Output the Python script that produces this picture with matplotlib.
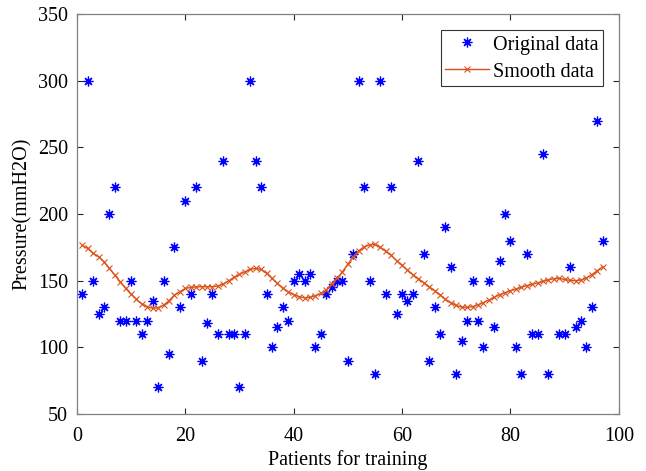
import matplotlib
matplotlib.use("Agg")
import matplotlib.pyplot as plt
import numpy as np

plt.rcParams['font.family'] = ['Liberation Serif', 'DejaVu Serif']

# Original data (patient index, pressure)
orig_x = list(range(1, 88)) + list(range(89, 98))
orig_y = [140, 300, 150, 125, 130, 200, 220, 120, 120, 150,
          120, 110, 120, 135, 70, 150, 95, 175, 130, 210,
          140, 220, 90, 118, 140, 110, 240, 110, 110, 70,
          110, 300, 240, 220, 140, 100, 115, 130, 120, 150,
          155, 150, 155, 100, 110, 140, 145, 150, 150, 90,
          170, 300, 220, 150, 80, 300, 140, 220, 125, 140,
          135, 140, 240, 170, 90, 130, 110, 190, 160, 80,
          105, 120, 150, 120, 100, 150, 115, 165, 200, 180,
          100, 80, 170, 110, 110, 245, 80,
          110, 110, 160, 115, 120, 100, 130, 270, 180]

# Smooth data
smooth_x = list(range(1, 98))
smooth_y = [176.5, 174.2, 170.5, 168, 164.2, 159.2, 154.2, 149.2, 144.2, 140,
            136, 132.5, 130.5, 129.3, 129.7, 131.7, 135, 139.2, 141.7, 144.2,
            145, 145.3, 145.5, 145.5, 145.5, 146, 147.5, 150, 152.5, 154.8,
            156.7, 158.5, 159.2, 158.5, 155.5, 151.7, 148, 144.2, 141.7, 139.5,
            138, 137.2, 137.5, 138.7, 140.5, 143, 147.5, 151.7, 156.7, 162.5,
            168, 172.5, 175.5, 176.8, 177.2, 175, 172, 169, 165, 161.5,
            158, 154.5, 151.5, 148.5, 145.5, 142.5, 139.5, 136, 133.5, 131.5,
            130.2, 130, 130.5, 132, 133.5, 135.5, 137.5, 139.5, 141, 142.5,
            143.7, 145, 146.3, 147.3, 148.3, 149.5, 150.7, 151.5, 151.7, 151,
            150.2, 150, 150.5, 152, 154.5, 157.5, 160.5]

fig = plt.figure(figsize=(6.46, 4.71), dpi=100)
ax = fig.add_axes([0.119, 0.121, 0.839, 0.849])

ax.plot(orig_x, orig_y, linestyle='none', marker=(8, 2, 0), markersize=7,
        color=(0, 0, 1), markeredgewidth=0.9, label='Original data')
ax.plot(smooth_x, smooth_y, '-', marker='x', markersize=5, color='#D95319',
        linewidth=1.0, markeredgewidth=0.8, label='Smooth data')

ax.set_xlim(0, 100)
ax.set_ylim(50, 350)
ax.set_xticks([0, 20, 40, 60, 80, 100])
ax.set_yticks([50, 100, 150, 200, 250, 300, 350])
ax.tick_params(direction='in', length=4, width=0.8, top=True, right=True,
               labelsize=14.5, colors='#262626')
ax.tick_params(axis='x', pad=9.5)
ax.tick_params(axis='y', pad=6.5)
for lbl in ax.get_xticklabels() + ax.get_yticklabels():
    lbl.set_color('black')
for s in ax.spines.values():
    s.set_color('#808080')
    s.set_linewidth(0.9)

ax.set_xlabel('Patients for training', fontsize=14.5, labelpad=3)
ax.set_ylabel('Pressure(mmH2O)', fontsize=14.5, labelpad=4)

leg = ax.legend(loc='upper right', fontsize=14.5, frameon=True, fancybox=False,
                edgecolor='#333333', framealpha=1, borderpad=0.2,
                handlelength=2.2, handleheight=1.0, handletextpad=0.2,
                labelspacing=0.3, borderaxespad=0.8)
leg.get_frame().set_linewidth(0.8)

fig.savefig('out.png', dpi=100)
